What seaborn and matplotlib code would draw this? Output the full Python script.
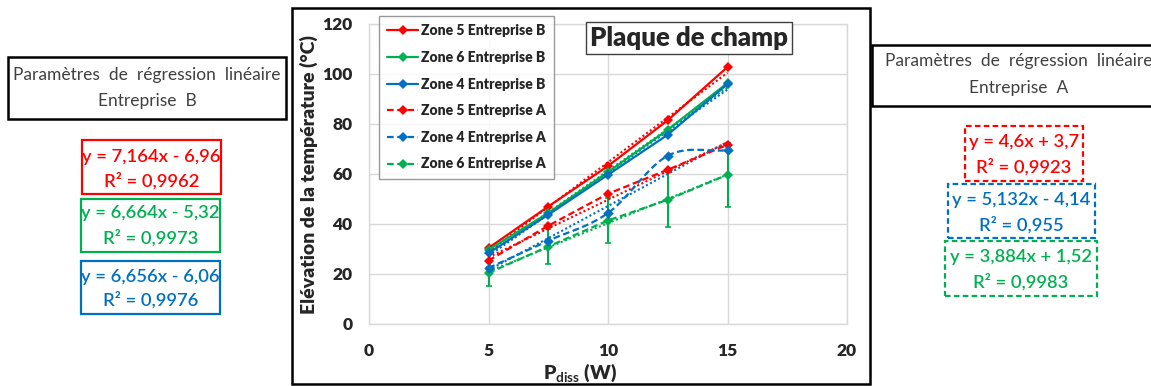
import numpy as np
import pandas as pd
import matplotlib
matplotlib.use("Agg")
import matplotlib.pyplot as plt
import seaborn as sns
from matplotlib.lines import Line2D
from matplotlib.patches import Rectangle

# ---- data -------------------------------------------------------------
p_diss = [5, 7.5, 10, 12.5, 15]

zone5_B = [30.4, 47.0, 63.2, 81.5, 102.8]
zone6_B = [29.7, 44.4, 60.8, 77.7, 96.4]
zone4_B = [28.4, 43.7, 59.7, 75.7, 96.0]
zone5_A = [25.4, 39.3, 52.1, 61.7, 71.7]
zone4_A = [22.4, 33.3, 44.4, 67.3, 69.5]
zone6_A = [20.4, 31.0, 41.4, 49.7, 59.7]
zone6_A_err = [5.0, 7.0, 9.0, 11.0, 12.7]

# linear regression parameters (slope, intercept, R²)
fit_labels = ["Zone 5 Entreprise B", "Zone 6 Entreprise B", "Zone 4 Entreprise B",
              "Zone 5 Entreprise A", "Zone 4 Entreprise A", "Zone 6 Entreprise A"]
fit_slope = [7.164, 6.664, 6.656, 4.6, 5.132, 3.884]
fit_intercept = [-6.96, -5.32, -6.06, 3.7, -4.14, 1.52]
fit_r2 = ["0,9962", "0,9973", "0,9976", "0,9923", "0,955", "0,9983"]
fit_eq = ["y = 7,164x - 6,96", "y = 6,664x - 5,32", "y = 6,656x - 6,06",
          "y = 4,6x + 3,7", "y = 5,132x - 4,14", "y = 3,884x + 1,52"]

x_ticks = [0, 5, 10, 15, 20]
y_ticks = [0, 20, 40, 60, 80, 100, 120]

RED, GREEN, BLUE = "#FF0000", "#00B050", "#0070C0"

# ---- style ------------------------------------------------------------
sns.set_style("white")
plt.rcParams["font.family"] = ["Lato", "DejaVu Sans"]
plt.rcParams["mathtext.fontset"] = "custom"
plt.rcParams["mathtext.rm"] = "Lato:bold"
plt.rcParams["mathtext.bf"] = "Lato:bold"

W, H = 1151, 386
fig = plt.figure(figsize=(W / 100, H / 100), dpi=100)
fig.patch.set_facecolor("white")


def fx(px):
    return px / W


def fy(py):
    return 1 - py / H


ax_left, ax_right, ax_top, ax_bottom = 369, 847, 24, 324
ax = fig.add_axes([fx(ax_left), fy(ax_bottom), fx(ax_right) - fx(ax_left),
                   fy(ax_top) - fy(ax_bottom)])

series = [
    (zone5_B, RED, "-"),
    (zone6_B, GREEN, "-"),
    (zone4_B, BLUE, "-"),
    (zone5_A, RED, (0, (3, 1.6))),
    (zone4_A, BLUE, (0, (3, 1.6))),
    (zone6_A, GREEN, (0, (3, 1.6))),
]

# error bars on zone 6 / entreprise A
ax.errorbar(p_diss, zone6_A, yerr=zone6_A_err, fmt="none", ecolor=GREEN,
            elinewidth=1.5, capsize=2, capthick=1.2, zorder=2)

# dotted linear trendlines
xt = np.array([p_diss[0], p_diss[-1]])
for (vals, col, ls), a, b in zip(series, fit_slope, fit_intercept):
    tdf = pd.DataFrame({"x": xt, "y": a * xt + b})
    sns.lineplot(data=tdf, x="x", y="y", ax=ax, color=col, lw=1.5,
                 linestyle=(0, (1, 1.2)), zorder=3)


def catmull_rom(xs, ys, n=30):
    xs, ys = np.asarray(xs, float), np.asarray(ys, float)
    px = np.concatenate([[2 * xs[0] - xs[1]], xs, [2 * xs[-1] - xs[-2]]])
    py = np.concatenate([[2 * ys[0] - ys[1]], ys, [2 * ys[-1] - ys[-2]]])
    ox, oy = [], []
    for i in range(1, len(px) - 2):
        t = np.linspace(0, 1, n, endpoint=False)
        for arr, out in ((px, ox), (py, oy)):
            p0, p1, p2, p3 = arr[i - 1], arr[i], arr[i + 1], arr[i + 2]
            out.extend(0.5 * ((2 * p1) + (-p0 + p2) * t
                              + (2 * p0 - 5 * p1 + 4 * p2 - p3) * t ** 2
                              + (-p0 + 3 * p1 - 3 * p2 + p3) * t ** 3))
    ox.append(xs[-1])
    oy.append(ys[-1])
    return np.array(ox), np.array(oy)


handles = []
for (vals, col, ls), lab in zip(series, fit_labels):
    df = pd.DataFrame({"P": p_diss, "T": vals})
    if lab == "Zone 4 Entreprise A":
        sx, sy = catmull_rom(p_diss, vals)
        sns.lineplot(x=sx, y=sy, ax=ax, color=col, lw=1.6, linestyle=ls,
                     sort=False, zorder=4)
        sns.scatterplot(data=df, x="P", y="T", ax=ax, color=col, marker="D",
                        s=28, linewidth=0, zorder=5)
    else:
        sns.lineplot(data=df, x="P", y="T", ax=ax, color=col, lw=1.6,
                     linestyle=ls, marker="D", markersize=5.5,
                     markeredgewidth=0, zorder=4)
    handles.append(Line2D([], [], color=col, lw=1.6, linestyle=ls, marker="D",
                          markersize=5, markeredgewidth=0, label=lab))

ax.set_xlim(0, 20)
ax.set_ylim(0, 120)
ax.set_xticks(x_ticks)
ax.set_yticks(y_ticks)
ax.set_xticklabels([str(v) for v in x_ticks], fontsize=12.5, fontweight="heavy")
ax.set_yticklabels([str(v) for v in y_ticks], fontsize=12.5, fontweight="heavy")
ax.tick_params(axis="x", length=0, pad=13.5)
ax.tick_params(axis="y", length=0, pad=12)
ax.grid(True, color="#D9D9D9", lw=1)
ax.set_axisbelow(True)
for s in ax.spines.values():
    s.set_color("#D9D9D9")
    s.set_linewidth(1)

ax.set_xlabel(r"P$_{\mathrm{diss}}$ (W)", fontsize=14, fontweight="heavy")
ax.set_ylabel("Elévation de la température (°C)", fontsize=14,
              fontweight="heavy")
# axis titles are centred on the chart frame (x) and the plot area (y)
ax.xaxis.set_label_coords((580 - ax_left) / (ax_right - ax_left),
                          -(361 - ax_bottom) / (ax_bottom - ax_top))
ax.yaxis.set_label_coords(-(ax_left - 318) / (ax_right - ax_left), 0.5)

leg = ax.legend(handles=handles, loc="upper left",
                bbox_to_anchor=(fx(379), fy(16)), bbox_transform=fig.transFigure,
                prop={"weight": "heavy", "size": 10}, frameon=True, fancybox=False,
                edgecolor="#808080", handlelength=2.2, handletextpad=0.2,
                labelspacing=0.98, borderpad=0.6, borderaxespad=0)
leg.get_frame().set_linewidth(1)

# chart title box
fig.text(fx(689), fy(38), "Plaque de champ", fontsize=18.5, fontweight="heavy",
         ha="center", va="center",
         bbox=dict(boxstyle="square,pad=0.15", fc="white", ec="#404040", lw=1))

# outer chart frame
fig.patches.append(Rectangle((fx(292), fy(384)), fx(870) - fx(292),
                             fy(8) - fy(384), transform=fig.transFigure,
                             fill=False, ec="black", lw=1.8))


def box(x0, y0, x1, y1, lines, ys, color, ec, ls="-", lw=1.6, size=12.5,
        weight="normal"):
    fig.patches.append(Rectangle((fx(x0), fy(y1)), fx(x1) - fx(x0),
                                 fy(y0) - fy(y1), transform=fig.transFigure,
                                 fill=True, fc="white", ec=ec, lw=lw,
                                 linestyle=ls))
    for t, yy in zip(lines, ys):
        fig.text(fx((x0 + x1) / 2), fy(yy), t, color=color, fontsize=size,
                 ha="center", va="center", fontweight=weight)


header = "Paramètres  de  régression  linéaire"
box(8, 57, 286, 119, [header, "Entreprise  B"], [75, 101], "#404040",
    "black", lw=1.8, size=12.5)
box(872, 45, 1165, 106, [header, "Entreprise  A"], [61, 88], "#404040",
    "black", lw=1.8, size=12.5)

cols = [RED, GREEN, BLUE, RED, BLUE, GREEN]
left_boxes = [(82, 140, 221, 194, 157, 181), (81, 199, 220, 252, 213, 238),
              (81, 261, 220, 314, 277, 300)]
right_boxes = [(965, 126, 1083, 181, 142, 167), (948, 184, 1095, 238, 200, 225),
               (945, 241, 1097, 296, 257, 282)]
for i, (x0, y0, x1, y1, l1, l2) in enumerate(left_boxes + right_boxes):
    ls = "-" if i < 3 else (0, (2.5, 1.5))
    box(x0, y0, x1, y1, [fit_eq[i], "R² = " + fit_r2[i]], [l1, l2],
        cols[i], cols[i], ls=ls, lw=1.6, size=13.2, weight="semibold")

fig.savefig("out.png", dpi=100, facecolor="white")
